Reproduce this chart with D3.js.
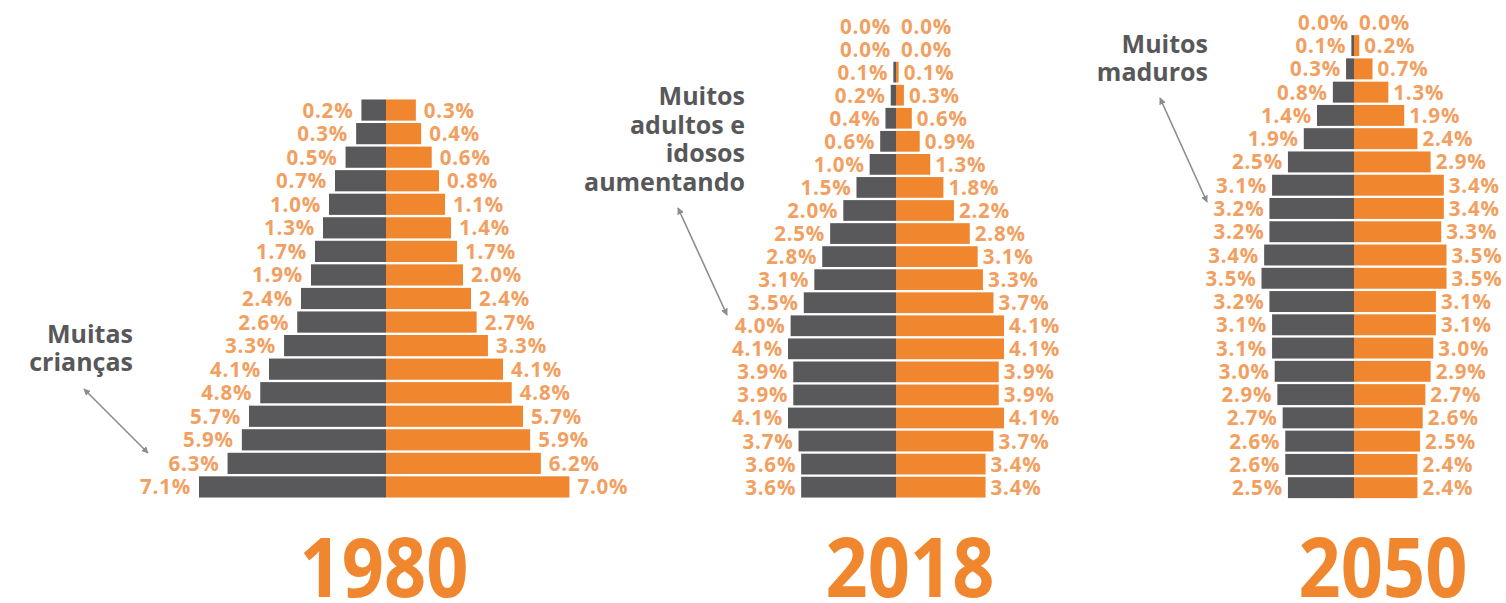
<!DOCTYPE html>
<html>
<head>
<meta charset="utf-8">
<script src="https://cdn.jsdelivr.net/npm/d3@7/dist/d3.min.js"></script>
<style>
  html, body { margin: 0; padding: 0; background: #ffffff; }
  svg { display: block; }
</style>
</head>
<body>
<svg id="chart" width="1506" height="603"></svg>
<script>
// ---------------- DATA ----------------
const years = ["1980", "2018", "2050"];

// rows listed from the oldest age group (top) to the youngest (bottom), values in %
const male1980   = [0.2, 0.3, 0.5, 0.7, 1.0, 1.3, 1.7, 1.9, 2.4, 2.6, 3.3, 4.1, 4.8, 5.7, 5.9, 6.3, 7.1];
const female1980 = [0.3, 0.4, 0.6, 0.8, 1.1, 1.4, 1.7, 2.0, 2.4, 2.7, 3.3, 4.1, 4.8, 5.7, 5.9, 6.2, 7.0];

const male2018   = [0.0, 0.0, 0.1, 0.2, 0.4, 0.6, 1.0, 1.5, 2.0, 2.5, 2.8, 3.1, 3.5, 4.0, 4.1, 3.9, 3.9, 4.1, 3.7, 3.6, 3.6];
const female2018 = [0.0, 0.0, 0.1, 0.3, 0.6, 0.9, 1.3, 1.8, 2.2, 2.8, 3.1, 3.3, 3.7, 4.1, 4.1, 3.9, 3.9, 4.1, 3.7, 3.4, 3.4];

const male2050   = [0.0, 0.1, 0.3, 0.8, 1.4, 1.9, 2.5, 3.1, 3.2, 3.2, 3.4, 3.5, 3.2, 3.1, 3.1, 3.0, 2.9, 2.7, 2.6, 2.6, 2.5];
const female2050 = [0.0, 0.2, 0.7, 1.3, 1.9, 2.4, 2.9, 3.4, 3.4, 3.3, 3.5, 3.5, 3.1, 3.1, 3.0, 2.9, 2.7, 2.6, 2.5, 2.4, 2.4];

const notes1980 = ["Muitas", "crianças"];
const notes2018 = ["Muitos", "adultos e", "idosos", "aumentando"];
const notes2050 = ["Muitos", "maduros"];

// ---------------- STYLE / LAYOUT ----------------
const DARK = "#59585a";
const ORANGE = "#f0872f";
const LABEL = "#f2a061";
const NOTE = "#58585a";
const ARROW = "#8c8c8c";

const svg = d3.select("#chart");
const defs = svg.append("defs");
["start", "end"].forEach(k => {
  defs.append("marker")
    .attr("id", "arrow-" + k)
    .attr("viewBox", "0 0 10 10")
    .attr("refX", k === "end" ? 9 : 1)
    .attr("refY", 5)
    .attr("markerWidth", 7)
    .attr("markerHeight", 7)
    .attr("markerUnits", "userSpaceOnUse")
    .attr("orient", "auto")
    .append("path")
    .attr("d", k === "end" ? "M0,0 L10,5 L0,10 Z" : "M10,0 L0,5 L10,10 Z")
    .attr("fill", ARROW);
});

const panels = [
  {
    year: years[0], male: male1980, female: female1980,
    cx: 386, top: 99, bottom: 498,
    x: d3.scaleLinear().domain([0, 0.7, 2.4, 4.1, 5.7, 7.1]).range([14, 51, 85, 117, 137, 187]),
    gap: 8, yearX: 384,
    notes: notes1980, noteX: 133, noteY: 343, noteDy: 28,
    arrow: [[84, 389], [148, 453]]
  },
  {
    year: years[1], male: male2018, female: female2018,
    cx: 896, top: 15.2, bottom: 498,
    x: d3.scaleLinear().domain([0, 4.1]).range([0, 108]),
    gap: 5, yearX: 910,
    notes: notes2018, noteX: 745, noteY: 105, noteDy: 28.5,
    arrow: [[678, 208], [727, 315]]
  },
  {
    year: years[2], male: male2050, female: female2050,
    cx: 1354, top: 11.4, bottom: 498.6,
    x: d3.scaleLinear().domain([0, 3.5]).range([0, 92.5]),
    gap: 5, yearX: 1383,
    notes: notes2050, noteX: 1208, noteY: 53, noteDy: 28,
    arrow: [[1160, 98], [1207, 202]]
  }
];

const fmt = v => d3.format(".1f")(v) + "%";

panels.forEach(p => {
  const g = svg.append("g");
  const idx = d3.range(p.male.length);
  const y = d3.scaleBand().domain(idx).range([p.top, p.bottom]).paddingInner(0.1).paddingOuter(0.02);

  // male bars (left)
  g.selectAll("rect.m").data(p.male).join("rect")
    .attr("class", "m")
    .attr("x", d => p.cx - (d > 0 ? p.x(d) : 0))
    .attr("y", (d, i) => y(i))
    .attr("width", d => d > 0 ? p.x(d) : 0)
    .attr("height", y.bandwidth())
    .attr("fill", DARK);

  // female bars (right)
  g.selectAll("rect.f").data(p.female).join("rect")
    .attr("class", "f")
    .attr("x", p.cx)
    .attr("y", (d, i) => y(i))
    .attr("width", d => d > 0 ? p.x(d) : 0)
    .attr("height", y.bandwidth())
    .attr("fill", ORANGE);

  const labelStyle = sel => sel
    .attr("font-family", "'Open Sans', sans-serif")
    .attr("font-weight", 700)
    .attr("font-size", 20.5)
    .attr("letter-spacing", "0.8px")
    .attr("fill", LABEL);

  g.selectAll("text.ml").data(p.male).join("text")
    .attr("class", "ml")
    .attr("x", d => p.cx - (d > 0 ? p.x(d) : 0) - p.gap)
    .attr("y", (d, i) => y(i) + y.bandwidth() / 2 + 7.5)
    .attr("text-anchor", "end")
    .call(labelStyle)
    .text(fmt);

  g.selectAll("text.fl").data(p.female).join("text")
    .attr("class", "fl")
    .attr("x", d => p.cx + (d > 0 ? p.x(d) : 0) + p.gap)
    .attr("y", (d, i) => y(i) + y.bandwidth() / 2 + 7.5)
    .attr("text-anchor", "start")
    .call(labelStyle)
    .text(fmt);

  // year title
  g.append("text")
    .attr("transform", `translate(${p.yearX},597) scale(0.9,1)`)
    .attr("text-anchor", "middle")
    .attr("font-family", "'Open Sans', sans-serif")
    .attr("font-weight", 700)
    .attr("font-size", 82)
    .attr("fill", ORANGE)
    .text(p.year);

  // annotation
  g.append("g").selectAll("text").data(p.notes).join("text")
    .attr("x", p.noteX)
    .attr("y", (d, i) => p.noteY + i * p.noteDy)
    .attr("text-anchor", "end")
    .attr("font-family", "'Open Sans', sans-serif")
    .attr("font-weight", 700)
    .attr("font-size", 25)
    .attr("fill", NOTE)
    .text(d => d);

  g.append("line")
    .attr("x1", p.arrow[0][0]).attr("y1", p.arrow[0][1])
    .attr("x2", p.arrow[1][0]).attr("y2", p.arrow[1][1])
    .attr("stroke", ARROW)
    .attr("stroke-width", 1.6)
    .attr("marker-start", "url(#arrow-start)")
    .attr("marker-end", "url(#arrow-end)");
});
</script>
</body>
</html>
